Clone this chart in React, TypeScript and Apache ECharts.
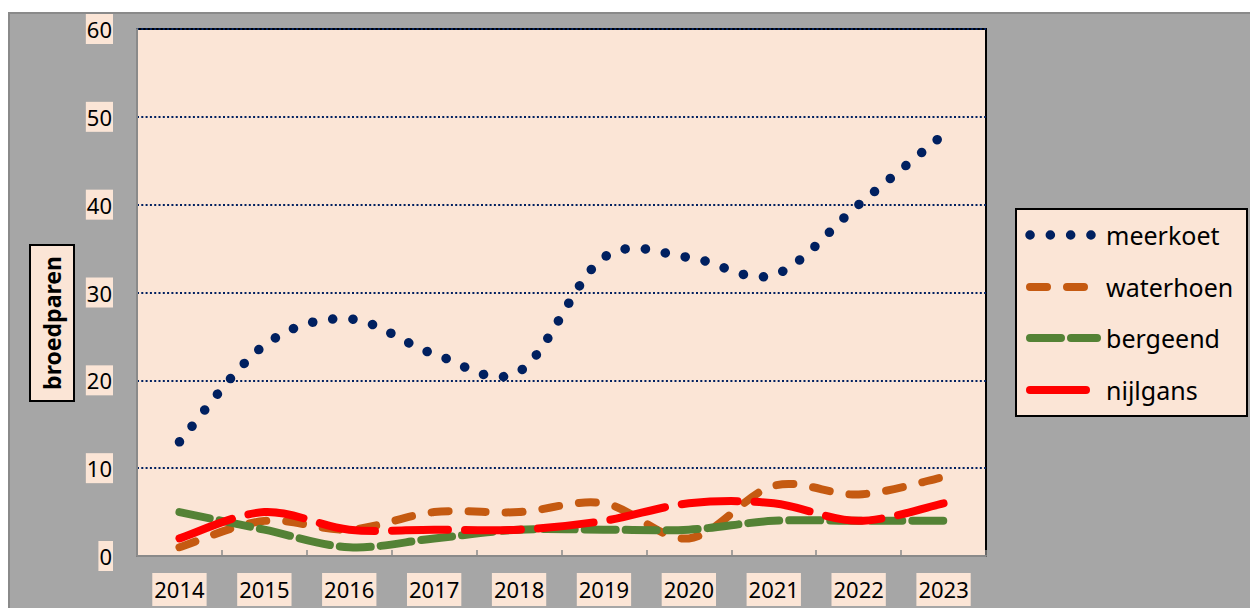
import React, { useEffect, useRef } from "react";
import * as echarts from "echarts";

const years = ["2014", "2015", "2016", "2017", "2018", "2019", "2020", "2021", "2022", "2023"];
const meerkoet = [13, 24, 27, 23, 21, 34, 34, 32, 40, 48];
const waterhoen = [1, 4, 3, 5, 5, 6, 2, 8, 7, 9];
const bergeend = [5, 3, 1, 2, 3, 3, 3, 4, 4, 4];
const nijlgans = [2, 5, 3, 3, 3, 4, 6, 6, 4, 6];
const seriesNames = ["meerkoet", "waterhoen", "bergeend", "nijlgans"];

const FONT = "'Noto Sans', 'DejaVu Sans', sans-serif";
const PEACH = "#fbe5d6";

type Sty = { color: string; dash: number[]; width: number };
const styles: Sty[] = [
  { color: "#002060", dash: [0.1, 20.2], width: 9.5 },
  { color: "#c55a11", dash: [17, 20], width: 8 },
  { color: "#548235", dash: [31, 10], width: 8 },
  { color: "#ff0000", dash: [56, 17], width: 8 },
];

function splinePath(pts: number[][]): string {
  // Catmull-Rom style cubic Bezier (Excel-like smoothing)
  const n = pts.length;
  let d = `M${pts[0][0]},${pts[0][1]}`;
  for (let i = 0; i < n - 1; i++) {
    const p0 = pts[Math.max(0, i - 1)];
    const p1 = pts[i];
    const p2 = pts[i + 1];
    const p3 = pts[Math.min(n - 1, i + 2)];
    const c1x = p1[0] + (p2[0] - p0[0]) / 6;
    const c1y = p1[1] + (p2[1] - p0[1]) / 6;
    const c2x = p2[0] - (p3[0] - p1[0]) / 6;
    const c2y = p2[1] - (p3[1] - p1[1]) / 6;
    d += ` C${c1x},${c1y} ${c2x},${c2y} ${p2[0]},${p2[1]}`;
  }
  return d;
}

export default function App() {
  const ref = useRef<HTMLDivElement>(null);
  useEffect(() => {
    if (!ref.current) return;
    const chart = echarts.init(ref.current, undefined, { renderer: "svg" });
    const mk = (idx: number, values: number[]) => {
      const s = styles[idx];
      return {
        name: seriesNames[idx],
        type: "custom",
        data: values.map((v, i) => [i, v]),
        encode: { x: 0, y: 1 },
        clip: false,
        renderItem: (params: any, api: any) => {
          if (params.dataIndex !== 0) return null;
          const pts = values.map((v, i) => api.coord([i, v]));
          return {
            type: "path",
            shape: { pathData: splinePath(pts) },
            style: {
              fill: "none",
              stroke: s.color,
              lineWidth: s.width,
              lineDash: s.dash,
              lineCap: "round",
              lineJoin: "round",
            },
          };
        },
      };
    };
    const legendY = [235, 287, 338, 390];
    const legendEls: any[] = [
      {
        type: "rect",
        shape: { x: 1016, y: 209, width: 231, height: 207 },
        style: { fill: PEACH, stroke: "#000", lineWidth: 2 },
      },
    ];
    seriesNames.forEach((name, i) => {
      const s = styles[i];
      legendEls.push({
        type: "line",
        shape: { x1: 1030, y1: legendY[i], x2: 1097, y2: legendY[i] },
        style: { stroke: s.color, lineWidth: s.width, lineDash: s.dash, lineCap: "round" },
      });
      legendEls.push({
        type: "text",
        x: 1106,
        y: legendY[i],
        style: {
          text: name,
          fontFamily: FONT,
          fontSize: 25,
          fill: "#000",
          verticalAlign: "middle",
          align: "left",
        },
      });
    });
    chart.setOption({
      animation: false,
      backgroundColor: "#ffffff",
      textStyle: { fontFamily: FONT },
      graphic: [
        {
          type: "rect",
          z: -10,
          silent: true,
          shape: { x: 9, y: 13, width: 1260, height: 620 },
          style: { fill: "#a6a6a6", stroke: "#8a8a8a", lineWidth: 2 },
        },
        {
          type: "text",
          x: 52,
          y: 323,
          rotation: Math.PI / 2,
          style: {
            text: "broedparen",
            fontFamily: FONT,
            fontWeight: "bold",
            fontSize: 23,
            fill: "#000",
            align: "center",
            verticalAlign: "middle",
            backgroundColor: PEACH,
            borderColor: "#000",
            borderWidth: 2,
            lineHeight: 26,
            padding: [8, 10, 8, 10],
          },
        },
        { type: "group", children: legendEls },
      ],
      grid: {
        left: 137,
        top: 29,
        right: 264,
        bottom: 52,
        show: true,
        backgroundColor: PEACH,
        borderColor: "#000",
        borderWidth: 2,
      },
      xAxis: {
        type: "category",
        data: years,
        boundaryGap: true,
        axisLine: { lineStyle: { color: "#8a8a8a", width: 2 } },
        axisTick: { show: true, inside: true, length: 6, lineStyle: { color: "#8a8a8a", width: 1.5 } },
        axisLabel: {
          fontFamily: FONT,
          fontSize: 22,
          color: "#000",
          lineHeight: 26,
          backgroundColor: PEACH,
          padding: [3, 2, 4, 2],
          margin: 17,
        },
        splitLine: { show: false },
      },
      yAxis: {
        type: "value",
        min: 0,
        max: 60,
        interval: 10,
        axisLine: { show: true, lineStyle: { color: "#8a8a8a", width: 2 } },
        axisTick: { show: false },
        axisLabel: {
          fontFamily: FONT,
          fontSize: 22,
          color: "#000",
          lineHeight: 26,
          backgroundColor: PEACH,
          padding: [2, 1, 2, 1],
          margin: 24,
        },
        splitLine: { show: true, lineStyle: { color: "#002060", width: 2, type: [2, 2.3] } },
      },
      series: [mk(0, meerkoet), mk(1, waterhoen), mk(2, bergeend), mk(3, nijlgans)],
    });
    return () => chart.dispose();
  }, []);
  return (
    <div
      ref={ref}
      style={{ position: "absolute", left: 0, top: 0, width: 1250, height: 608 }}
    />
  );
}
